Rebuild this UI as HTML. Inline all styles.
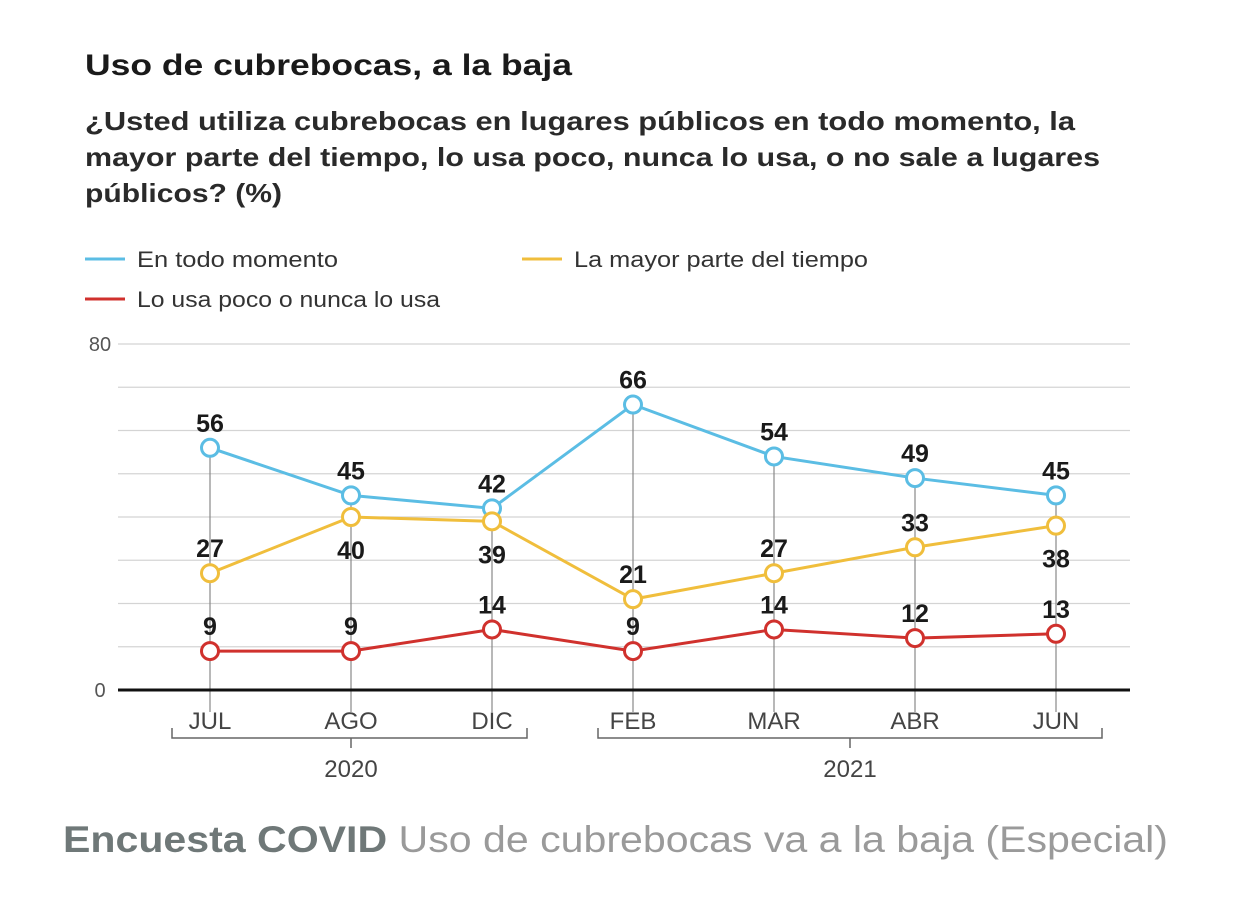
<!DOCTYPE html>
<html><head><meta charset="utf-8">
<style>
body{margin:0;width:1242px;height:914px;background:#fff;font-family:"Liberation Sans",sans-serif;overflow:hidden}
svg{position:absolute;left:0;top:0}
</style></head>
<body>
<svg width="1242" height="914">
<text x="85" y="75" font-size="30" font-weight="bold" fill="#1a1a1a" textLength="487" lengthAdjust="spacingAndGlyphs">Uso de cubrebocas, a la baja</text>
<g font-size="26" font-weight="bold" fill="#2a2a2a">
<text x="85" y="130" textLength="990" lengthAdjust="spacingAndGlyphs">¿Usted utiliza cubrebocas en lugares públicos en todo momento, la</text>
<text x="85" y="166" textLength="1015" lengthAdjust="spacingAndGlyphs">mayor parte del tiempo, lo usa poco, nunca lo usa, o no sale a lugares</text>
<text x="85" y="202" textLength="197" lengthAdjust="spacingAndGlyphs">públicos? (%)</text>
</g>
<g font-size="22" fill="#333">
<g><line x1="85" y1="259" x2="125" y2="259" stroke="#5bbde4" stroke-width="3"/><text x="137" y="267" textLength="201" lengthAdjust="spacingAndGlyphs">En todo momento</text></g>
<g><line x1="522" y1="259" x2="562" y2="259" stroke="#f0be3c" stroke-width="3"/><text x="574" y="267" textLength="294" lengthAdjust="spacingAndGlyphs">La mayor parte del tiempo</text></g>
<g><line x1="85" y1="299" x2="125" y2="299" stroke="#d0312d" stroke-width="3"/><text x="137" y="307" textLength="303" lengthAdjust="spacingAndGlyphs">Lo usa poco o nunca lo usa</text></g>
</g>
<g id="plot"></g>
<g font-size="24" fill="#444">
<path d="M172 728 V738 H527 V728 M351 738 V748" fill="none" stroke="#666" stroke-width="1.5"/>
<path d="M598 728 V738 H1102 V728 M850 738 V748" fill="none" stroke="#666" stroke-width="1.5"/>
<text x="351" y="777" text-anchor="middle">2020</text>
<text x="850" y="777" text-anchor="middle">2021</text>
</g>
<text x="63" y="852" font-size="37" textLength="1105" lengthAdjust="spacingAndGlyphs"><tspan font-weight="bold" fill="#6f7878">Encuesta COVID</tspan><tspan fill="#9a9a9a"> Uso de cubrebocas va a la baja (Especial)</tspan></text>
</svg>
<script>
const months=["JUL","AGO","DIC","FEB","MAR","ABR","JUN"];
const todo=[56,45,42,66,54,49,45];
const mayor=[27,40,39,21,27,33,38];
const poco=[9,9,14,9,14,12,13];
const yTicks=[0,80];
const ns="http://www.w3.org/2000/svg";
const g=document.getElementById("plot");
const X=i=>210+i*141, Y=v=>690-v*4.325;
function mk(t,a,p){const e=document.createElementNS(ns,t);for(const k in a)e.setAttribute(k,a[k]);(p||g).appendChild(e);return e;}
for(let v=10;v<=80;v+=10){const l=mk("line",{x1:118,x2:1130,y1:Y(v),y2:Y(v),stroke:"#d4d4d4","stroke-width":1.2});

}
yTicks.forEach(v=>{const t=mk("text",{x:100,y:Y(v)+7,"text-anchor":"middle","font-size":20,fill:"#555"});t.textContent=v;

});
months.forEach((m,i)=>{const top=Math.max(todo[i],mayor[i],poco[i]);
const l=mk("line",{x1:X(i),x2:X(i),y1:Y(top),y2:712,stroke:"#888","stroke-width":1.2});


const t=mk("text",{x:X(i),y:729,"text-anchor":"middle","font-size":24,fill:"#444"});t.textContent=m;

});
const ax=mk("line",{x1:118,x2:1130,y1:690,y2:690,stroke:"#111","stroke-width":3});


const series=[[todo,"#5bbde4","todo"],[mayor,"#f0be3c","mayor"],[poco,"#d0312d","poco"]];
series.forEach(([d,c,n])=>{const pl=mk("polyline",{points:d.map((v,i)=>X(i)+","+Y(v)).join(" "),fill:"none",stroke:c,"stroke-width":3});

});
series.forEach(([d,c,n])=>{d.forEach((v,i)=>{
const ci=mk("circle",{cx:X(i),cy:Y(v),r:8.5,fill:"#fff",stroke:c,"stroke-width":3});


let below=false;
if(n==="mayor"&&mayor[i]>todo[i]-10)below=true;
const t=mk("text",{x:X(i),y:below?Y(v)+42:Y(v)-16,"text-anchor":"middle","font-size":25,"font-weight":"bold",fill:"#1a1a1a"});
t.textContent=v;

});});
</script>
</body></html>
